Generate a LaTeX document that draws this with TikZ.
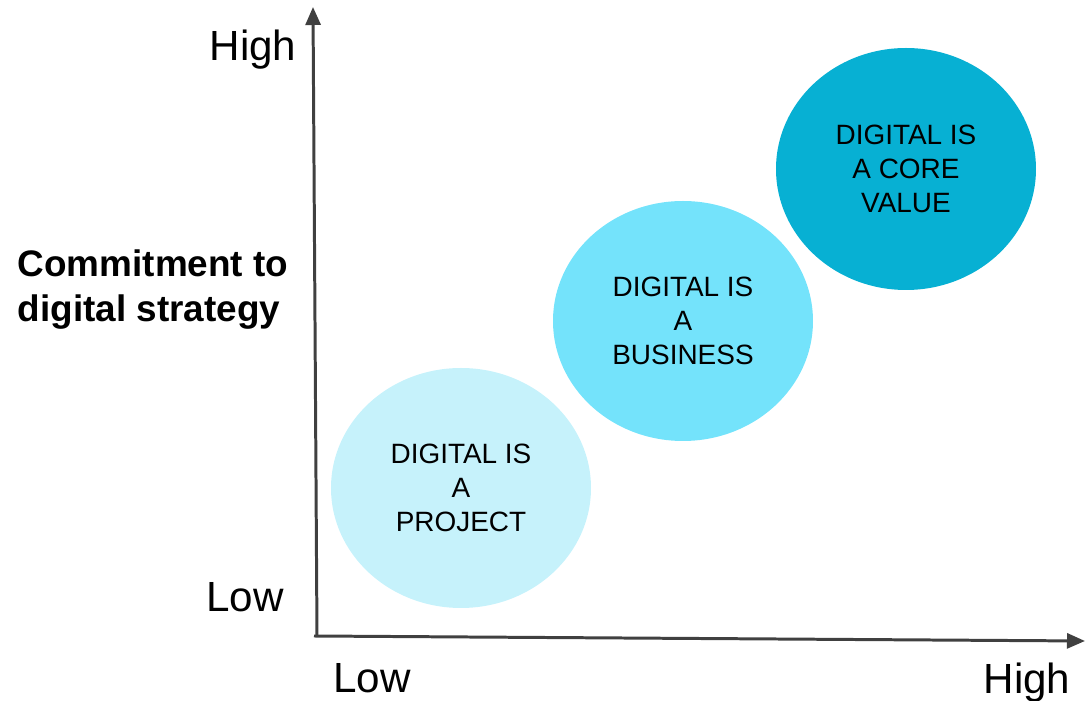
\documentclass[tikz,border=0pt]{standalone}
\usepackage{fontspec}
\setmainfont{Liberation Sans}
\usetikzlibrary{arrows.meta, shapes.geometric}

\definecolor{stageone}{HTML}{C6F2FB}
\definecolor{stagetwo}{HTML}{74E3FB}
\definecolor{stagethree}{HTML}{07B0D3}
\definecolor{axisgray}{HTML}{404040}

\tikzset{
  axis/.style={draw=axisgray, line width=0.85pt, -{Triangle[length=0.18cm, width=0.15cm]}},
  stage/.style={ellipse, minimum width=2.6cm, minimum height=2.4cm, inner sep=0pt,
    align=center, font=\fontsize{7.95}{9.7}\selectfont},
  level/.style={font=\fontsize{12}{14}\selectfont, anchor=base},
  axistitle/.style={anchor=base west, inner sep=0pt, font=\fontsize{10.5}{12.8}\selectfont\bfseries},
}

\begin{document}
\begin{tikzpicture}
			\useasboundingbox (0,0) rectangle (10.9,7.01);

			% Axes
			\coordinate (origin) at (3.17,0.65);
			\coordinate (ytip) at (3.13,6.94);
			\coordinate (xtip) at (10.85,0.60);
			\draw[axis] (origin) -- (ytip);
			\draw[axis] (3.14,0.65) -- (xtip);

			% Stages (bubbles)
			\node[stage, fill=stageone] (project) at (4.61,2.13) {DIGITAL IS\\A\\PROJECT};
			\node[stage, fill=stagetwo] (business) at (6.83,3.80) {DIGITAL IS\\A\\BUSINESS};
			\node[stage, fill=stagethree, minimum height=2.42cm] (core) at (9.06,5.32) {DIGITAL IS\\A CORE\\VALUE};

			% Labels for the vertical axis
			\node[level] (yhigh) at (2.53,6.40) {High};
			\node[level] (ylow) at (2.45,0.89) {Low};
			\node[axistitle] (ytitle) at (0.17,4.24) {Commitment to};
			\node[axistitle] (ytitleb) at (0.17,3.79) {digital strategy};

			% Labels for the horizontal axis
			\node[level] (xlow) at (3.72,0.08) {Low};
			\node[level] (xhigh) at (10.27,0.07) {High};
		\end{tikzpicture}
\end{document}
